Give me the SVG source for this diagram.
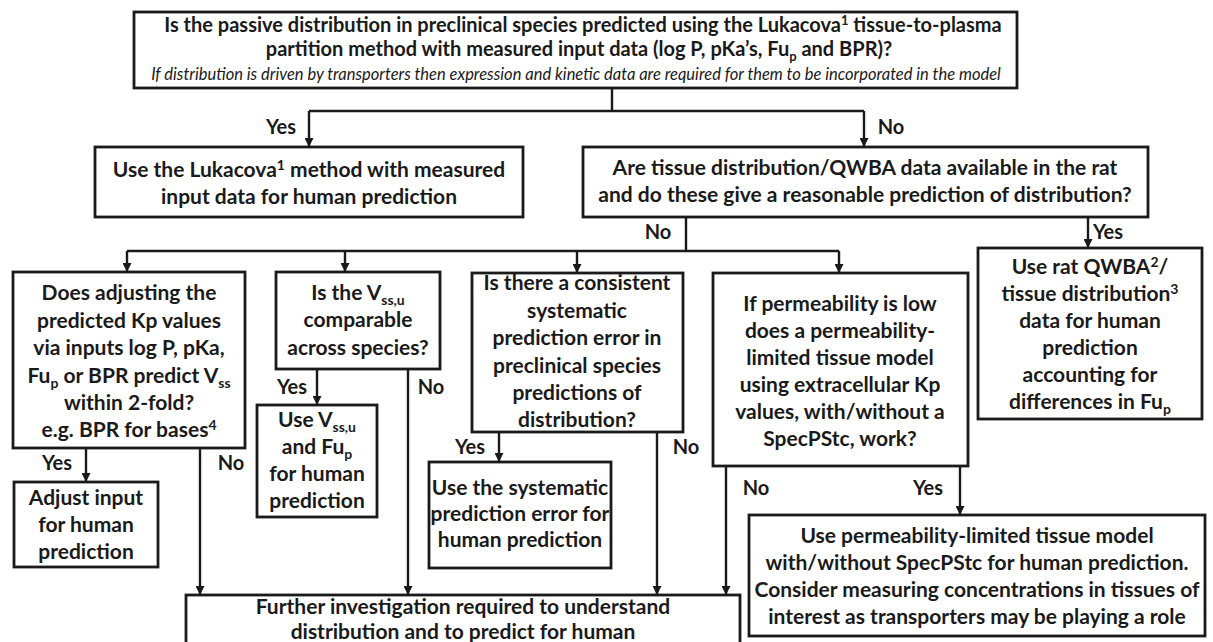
<svg xmlns="http://www.w3.org/2000/svg" width="1213" height="642" viewBox="0 0 1213 642">
  <style>
    .box { fill: #ffffff; stroke: #1a1a1a; stroke-width: 2.8; }
    .wire { fill: none; stroke: #1a1a1a; stroke-width: 2.4; }
    .arr { fill: none; stroke: #1a1a1a; stroke-width: 2.4; marker-end: url(#head); }
    text { font-family: "Lato", "Liberation Sans", sans-serif; font-weight: 700; fill: #1a1a1a; text-anchor: middle; }
    .t { font-size: 21px; }
    .q { font-size: 20px; }
    .note { font-size: 16.5px; font-style: italic; font-weight: 400; }
    .lbl { font-size: 20px; }
  </style>
  <defs>
    <marker id="head" markerUnits="userSpaceOnUse" markerWidth="9" markerHeight="9" refX="9" refY="4.5" orient="auto">
      <path d="M0,0 L9,4.5 L0,9 z" fill="#1a1a1a"/>
    </marker>
  </defs>

  <rect width="1213" height="642" fill="#ffffff"/>

  <!-- connectors -->
  <g id="connectors">
    <path class="wire" d="M612,88 V111 M309,111 H864"/>
    <path class="arr" d="M309,111 V147"/>
    <path class="arr" d="M864,111 V147"/>
    <path class="wire" d="M686,217 V251 M127,251 H839"/>
    <path class="arr" d="M127,251 V272"/>
    <path class="arr" d="M345,251 V272"/>
    <path class="arr" d="M577,251 V273"/>
    <path class="arr" d="M839,251 V273"/>
    <path class="arr" d="M1088,217 V248"/>
    <path class="arr" d="M86,448 V482"/>
    <path class="arr" d="M200,448 V595"/>
    <path class="arr" d="M317,369 V405"/>
    <path class="arr" d="M408,369 V595"/>
    <path class="arr" d="M499,432 V462"/>
    <path class="arr" d="M657,432 V595"/>
    <path class="arr" d="M726,466 V595"/>
    <path class="arr" d="M960,466 V515"/>
  </g>

  <!-- branch labels -->
  <g id="labels">
    <text class="lbl" x="281" y="134">Yes</text>
    <text class="lbl" x="891" y="134">No</text>
    <text class="lbl" x="658" y="239">No</text>
    <text class="lbl" x="1108" y="239">Yes</text>
    <text class="lbl" x="57" y="470">Yes</text>
    <text class="lbl" x="231" y="470">No</text>
    <text class="lbl" x="292" y="394">Yes</text>
    <text class="lbl" x="431" y="394">No</text>
    <text class="lbl" x="470" y="454">Yes</text>
    <text class="lbl" x="686" y="454">No</text>
    <text class="lbl" x="756" y="495">No</text>
    <text class="lbl" x="928" y="495">Yes</text>
  </g>

  <!-- top question -->
  <g id="n-passive">
    <rect class="box" x="134" y="12" width="883" height="76"/>
    <text class="q" x="583" y="32">Is the passive distribution in preclinical species predicted using the Lukacova<tspan font-size="13" dy="-7">1</tspan><tspan dy="7"> tissue-to-plasma</tspan></text>
    <text class="q" x="579" y="56">partition method with measured input data (log P, pKa’s, Fu<tspan font-size="13" dy="5">p</tspan><tspan dy="-5"> and BPR)?</tspan></text>
    <text class="note" x="576" y="80">If distribution is driven by transporters then expression and kinetic data are required for them to be incorporated in the model</text>
  </g>

  <g id="n-lukacova">
    <rect class="box" x="95" y="147" width="428" height="70"/>
    <text class="t" x="309" y="177">Use the Lukacova<tspan font-size="14" dy="-7">1</tspan><tspan dy="7"> method with measured</tspan></text>
    <text class="t" x="309" y="204">input data for human prediction</text>
  </g>

  <g id="n-rat-data">
    <rect class="box" x="583" y="147" width="565" height="70"/>
    <text class="t" x="865" y="175">Are tissue distribution/QWBA data available in the rat</text>
    <text class="t" x="865" y="202">and do these give a reasonable prediction of distribution?</text>
  </g>

  <g id="n-adjust-kp">
    <rect class="box" x="13" y="272" width="232" height="176"/>
    <text class="t" x="129" y="300">Does adjusting the</text>
    <text class="t" x="129" y="328">predicted Kp values</text>
    <text class="t" x="129" y="355">via inputs log P, pKa,</text>
    <text class="t" x="129" y="383">Fu<tspan font-size="14" dy="5">p</tspan><tspan dy="-5"> or BPR predict V</tspan><tspan font-size="14" dy="5">ss</tspan></text>
    <text class="t" x="129" y="410">within 2-fold?</text>
    <text class="t" x="129" y="437">e.g. BPR for bases<tspan font-size="14" dy="-7">4</tspan></text>
  </g>

  <g id="n-vssu">
    <rect class="box" x="276" y="272" width="164" height="97"/>
    <text class="t" x="358" y="300">Is the V<tspan font-size="14" dy="5">ss,u</tspan></text>
    <text class="t" x="358" y="327">comparable</text>
    <text class="t" x="358" y="355">across species?</text>
  </g>

  <g id="n-systematic">
    <rect class="box" x="472" y="273" width="211" height="159"/>
    <text class="t" x="577" y="290">Is there a consistent</text>
    <text class="t" x="577" y="318">systematic</text>
    <text class="t" x="577" y="345">prediction error in</text>
    <text class="t" x="577" y="373">preclinical species</text>
    <text class="t" x="577" y="400">predictions of</text>
    <text class="t" x="577" y="427">distribution?</text>
  </g>

  <g id="n-permeability">
    <rect class="box" x="713" y="273" width="255" height="193"/>
    <text class="t" x="840" y="311">If permeability is low</text>
    <text class="t" x="840" y="338">does a permeability-</text>
    <text class="t" x="840" y="365">limited tissue model</text>
    <text class="t" x="840" y="392">using extracellular Kp</text>
    <text class="t" x="840" y="419">values, with/without a</text>
    <text class="t" x="840" y="446">SpecPStc, work?</text>
  </g>

  <g id="n-rat-qwba">
    <rect class="box" x="978" y="248" width="224" height="171"/>
    <text class="t" x="1090" y="274">Use rat QWBA<tspan font-size="14" dy="-7">2</tspan><tspan dy="7">/</tspan></text>
    <text class="t" x="1090" y="301">tissue distribution<tspan font-size="14" dy="-7">3</tspan></text>
    <text class="t" x="1090" y="328">data for human</text>
    <text class="t" x="1090" y="355">prediction</text>
    <text class="t" x="1090" y="382">accounting for</text>
    <text class="t" x="1090" y="409">differences in Fu<tspan font-size="14" dy="5">p</tspan></text>
  </g>

  <g id="n-use-vssu">
    <rect class="box" x="257" y="405" width="120" height="112"/>
    <text class="t" x="317" y="427">Use V<tspan font-size="14" dy="5">ss,u</tspan></text>
    <text class="t" x="317" y="454">and Fu<tspan font-size="14" dy="5">p</tspan></text>
    <text class="t" x="317" y="481">for human</text>
    <text class="t" x="317" y="508">prediction</text>
  </g>

  <g id="n-adjust-input">
    <rect class="box" x="14" y="482" width="144" height="85"/>
    <text class="t" x="86" y="505">Adjust input</text>
    <text class="t" x="86" y="532">for human</text>
    <text class="t" x="86" y="559">prediction</text>
  </g>

  <g id="n-use-systematic">
    <rect class="box" x="429" y="462" width="182" height="106"/>
    <text class="t" x="520" y="495">Use the systematic</text>
    <text class="t" x="520" y="521">prediction error for</text>
    <text class="t" x="520" y="547">human prediction</text>
  </g>

  <g id="n-use-permeability">
    <rect class="box" x="749" y="515" width="456" height="121"/>
    <text class="t" x="977" y="543">Use permeability-limited tissue model</text>
    <text class="t" x="977" y="570">with/without SpecPStc for human prediction.</text>
    <text class="t" x="977" y="597">Consider measuring concentrations in tissues of</text>
    <text class="t" x="977" y="624">interest as transporters may be playing a role</text>
  </g>

  <g id="n-further">
    <rect class="box" x="186" y="595" width="554" height="60"/>
    <text class="t" x="463" y="614">Further investigation required to understand</text>
    <text class="t" x="463" y="639">distribution and to predict for human</text>
  </g>
</svg>
